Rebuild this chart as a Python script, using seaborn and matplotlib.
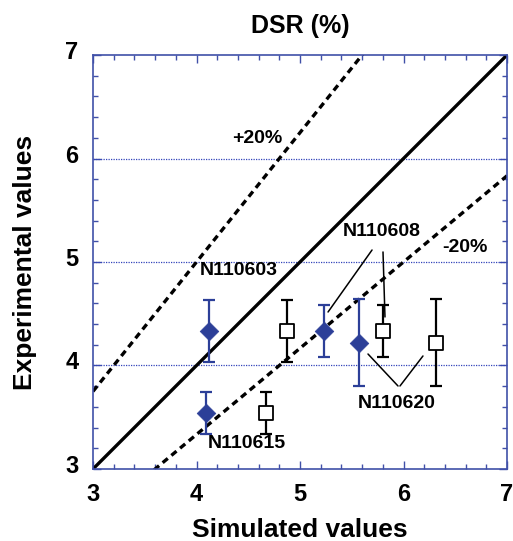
import numpy as np
import pandas as pd
import matplotlib
matplotlib.use("Agg")
import matplotlib.pyplot as plt
import matplotlib.transforms as mtransforms
import seaborn as sns
from matplotlib.ticker import MultipleLocator

# ---- data ----
labels = ["N110603", "N110615", "N110608", "N110620"]
exp_values = [4.33, 3.54, 4.33, 4.22]
exp_errors = [0.30, 0.20, 0.25, 0.42]
sim_model_a = [4.12, 4.09, 5.23, 5.57]   # filled diamonds
sim_model_b = [4.87, 4.67, 5.80, 6.31]   # open squares
ref_factors = [1.0, 1.25, 1 / 1.2]
ref_labels = ["", "+20%", "-20%"]
x_ticks = [3, 4, 5, 6, 7]
y_ticks = [3, 4, 5, 6, 7]

df_a = pd.DataFrame({"sim": sim_model_a, "exp": exp_values, "err": exp_errors})
df_b = pd.DataFrame({"sim": sim_model_b, "exp": exp_values, "err": exp_errors})

sns.set_theme(style="white")
plt.rcParams["font.family"] = ["Liberation Sans", "DejaVu Sans"]
plt.rcParams["font.weight"] = "bold"
plt.rcParams["text.color"] = "black"
plt.rcParams["axes.labelcolor"] = "black"
plt.rcParams["xtick.labelcolor"] = "black"
plt.rcParams["ytick.labelcolor"] = "black"

blue = "#2c3f98"
spine_blue = "#4050a8"

fig = plt.figure(figsize=(5.13, 5.41), dpi=100)
ax = fig.add_axes([0.1813, 0.1331, 0.807, 0.7652])

# reference lines
xs = np.array([3.0, 7.0])
for f in ref_factors:
    ref = pd.DataFrame({"x": xs, "y": xs * f})
    if f == 1.0:
        sns.lineplot(data=ref, x="x", y="y", ax=ax, color="black", lw=2.4, zorder=2)
    else:
        ax.plot(ref["x"], ref["y"], color="black", lw=2.4, ls=(0, (2.0, 1.4)), zorder=2)

# grid lines
for gy in [4, 5, 6]:
    ax.axhline(gy, color="#3344bb", lw=0.9, ls=(0, (1, 1)), zorder=1)

# error bars
ax.errorbar(df_a["sim"], df_a["exp"], yerr=df_a["err"], fmt="none", ecolor=blue,
            elinewidth=1.6, capsize=4.5, capthick=1.6, zorder=3)
ax.errorbar(df_b["sim"], df_b["exp"], yerr=df_b["err"], fmt="none", ecolor="black",
            elinewidth=1.6, capsize=4.5, capthick=1.6, zorder=3)

# markers
sns.scatterplot(data=df_a, x="sim", y="exp", ax=ax, marker="D", s=90, color=blue,
                edgecolor=blue, linewidth=0.5, zorder=4)
sns.scatterplot(data=df_b, x="sim", y="exp", ax=ax, marker="s", s=110, facecolor="white",
                edgecolor="black", linewidth=1.3, zorder=4)

# annotations
fs = 14
ax.text(4.59, 6.19, ref_labels[1], ha="center", va="center", fontsize=fs, fontweight="bold")
ax.text(6.59, 5.14, ref_labels[2], ha="center", va="center", fontsize=fs, fontweight="bold")
ax.text(4.41, 4.92, labels[0], ha="center", va="center", fontsize=fs, fontweight="bold")
ax.text(4.49, 3.25, labels[1], ha="center", va="center", fontsize=fs, fontweight="bold")
ax.text(5.79, 5.29, labels[2], ha="center", va="center", fontsize=fs, fontweight="bold")
ax.text(5.93, 3.63, labels[3], ha="center", va="center", fontsize=fs, fontweight="bold")

# leader lines
leaders = [
    ([5.696, 5.271], [5.116, 4.517]),
    ([5.802, 5.821], [5.097, 4.469]),
    ([5.657, 5.947], [4.111, 3.802]),
    ([5.966, 6.188], [3.802, 4.092]),
]
for lx, ly in leaders:
    ax.plot(lx, ly, color="black", lw=1.1, zorder=3)

ax.set_xlim(3, 7)
ax.set_ylim(3, 7)
ax.set_xticks(x_ticks)
ax.set_yticks(y_ticks)
ax.xaxis.set_minor_locator(MultipleLocator(0.2))
ax.yaxis.set_minor_locator(MultipleLocator(0.2))
ax.tick_params(which="both", direction="in", top=True, right=True, bottom=True, left=True,
               color=spine_blue, width=1.0, labelcolor="black")
ax.tick_params(which="major", length=6, labelsize=17)
ax.tick_params(axis="x", which="major", pad=10)
ax.tick_params(axis="y", which="major", pad=10.5)
ax.tick_params(which="minor", length=3.5)
for t in ax.get_xticklabels() + ax.get_yticklabels():
    t.set_fontweight("bold")
shift = mtransforms.ScaledTranslation(0, 5 / 100, fig.dpi_scale_trans)
for t in ax.get_yticklabels():
    t.set_transform(t.get_transform() + shift)
for s in ax.spines.values():
    s.set_color(spine_blue)
    s.set_linewidth(1.2)
    s.set_visible(True)

ax.set_xlabel("Simulated values", fontsize=19, fontweight="bold", labelpad=9, color="black")
ax.set_ylabel("Experimental values", fontsize=19, fontweight="bold", labelpad=20, color="black")
ax.set_title("DSR (%)", fontsize=18, fontweight="bold", pad=15.5, color="black")
if ax.get_legend():
    ax.get_legend().remove()

fig.savefig("out.png", dpi=100)
